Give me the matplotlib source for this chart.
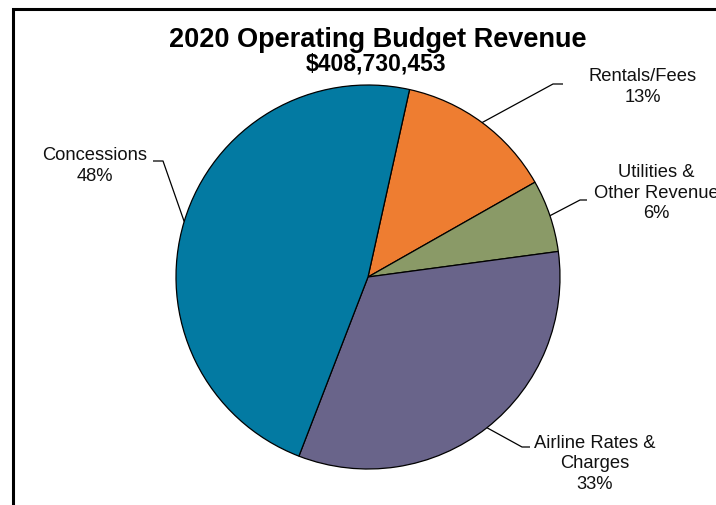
import matplotlib
matplotlib.use("Agg")
import matplotlib.pyplot as plt
import numpy as np

plt.rcParams['font.family'] = ['Liberation Sans', 'DejaVu Sans']

# Revenue by source, in millions of dollars (clockwise from the top)
categories = ["Rentals/Fees", "Utilities &\nOther Revenue", "Airline Rates &\nCharges", "Concessions"]
revenue = [54.4, 24.9, 134.8, 194.6]
colors = ["#EE7D31", "#8A9A67", "#69648A", "#037AA2"]
title = "2020 Operating Budget Revenue"
subtitle = "$408,730,453"

W, H = 716, 505
fig = plt.figure(figsize=(W / 100, H / 100), dpi=100)
ax = fig.add_axes([0, 0, 1, 1])


def Y(y):
    # convert a top-origin pixel row to the axes' bottom-origin coordinate
    return H - y


center = (368, Y(277))
radius = 192
wedges, _ = ax.pie(revenue, colors=colors, startangle=77.5, counterclock=False,
                   center=center, radius=radius,
                   wedgeprops=dict(edgecolor="black", linewidth=0.9))
ax.set_xlim(0, W)
ax.set_ylim(0, H)
ax.set_aspect("equal")
ax.axis("off")

total = sum(revenue)
pcts = [round(v / total * 100) for v in revenue]

# leader elbow, leader end, label centre (pixel rows from the top)
leaders = [
    ((553, 84), (563, 84), (643, 87)),
    ((580, 200), (587, 200), (656, 193)),
    ((522, 447), (530, 447), (595, 464)),
    ((163, 161), (153, 161), (95, 166)),
]

for w, cat, p, (elb, end, txt) in zip(wedges, categories, pcts, leaders):
    mid = np.deg2rad((w.theta1 + w.theta2) / 2)
    sx = center[0] + radius * np.cos(mid)
    sy = center[1] + radius * np.sin(mid)
    ax.plot([sx, elb[0], end[0]], [sy, Y(elb[1]), Y(end[1])],
            color="black", lw=0.9, solid_capstyle="butt", clip_on=False)
    ax.text(txt[0], Y(txt[1]), f"{cat}\n{p}%", ha="center", va="center",
            fontsize=13.2, color="#111111", linespacing=1.3, clip_on=False)

ax.text(378, Y(47), title, ha="center", va="baseline", fontsize=19.5,
        fontweight="bold", color="black")
ax.text(376, Y(70), subtitle, ha="center", va="baseline", fontsize=16.5,
        fontweight="bold", color="black")

# chart frame (left and top edges)
ax.plot([12.5, 12.5, W + 5], [-5, Y(8.5), Y(8.5)], color="black", lw=2.2,
        solid_joinstyle="miter", clip_on=False)

fig.savefig("out.png", dpi=100)
